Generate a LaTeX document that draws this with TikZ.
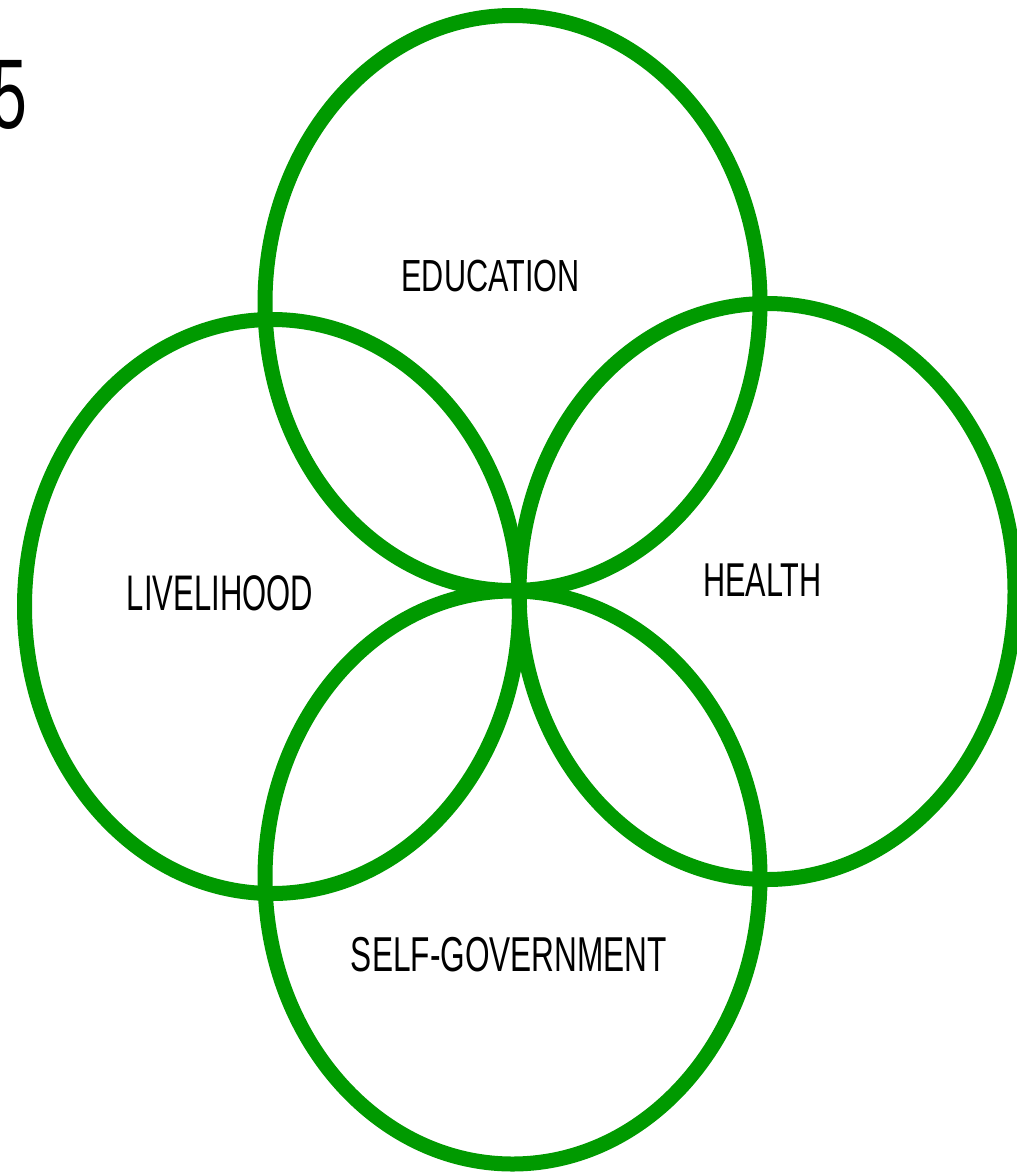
\documentclass[tikz,border=0pt]{standalone}
\usepackage{fontspec}
\usepackage{graphicx}
\setmainfont{Liberation Sans}
\definecolor{ringgreen}{HTML}{009A00}
\newcommand{\narrow}[3]{\scalebox{#1}[1]{\fontsize{#2}{#2}\selectfont #3}}
\begin{document}
\begin{tikzpicture}[x=1pt,y=-1pt,
  ring/.style={draw=ringgreen,line width=15pt},
  lab/.style={inner sep=0pt,outer sep=0pt,text=black}]
\useasboundingbox (0,0) rectangle (1017,1173);
\fill[white] (0,0) rectangle (1017,1173);
% rings
\draw[ring] (512.5,303) ellipse [x radius=247.5, y radius=287.5];
\draw[ring] (272,606.5) ellipse [x radius=247.5, y radius=287];
\draw[ring] (767,591.5) ellipse [x radius=248, y radius=288];
\draw[ring] (512.5,877.5) ellipse [x radius=247.5, y radius=286.5];
% labels
\node[lab] (edu) at (490.5,276.5) {\narrow{0.68}{45}{EDUCATION}};
\node[lab] (liv) at (220,593) {\narrow{0.62}{50}{LIVELIHOOD}};
\node[lab] (hea) at (762.5,580) {\narrow{0.645}{47.5}{HEALTH}};
\node[lab] (gov) at (509,954.5) {\narrow{0.645}{49}{SELF-GOVERNMENT}};
\node[lab,anchor=base east] (num) at (27.5,128) {\narrow{0.65}{99}{5}};
\end{tikzpicture}
\end{document}
